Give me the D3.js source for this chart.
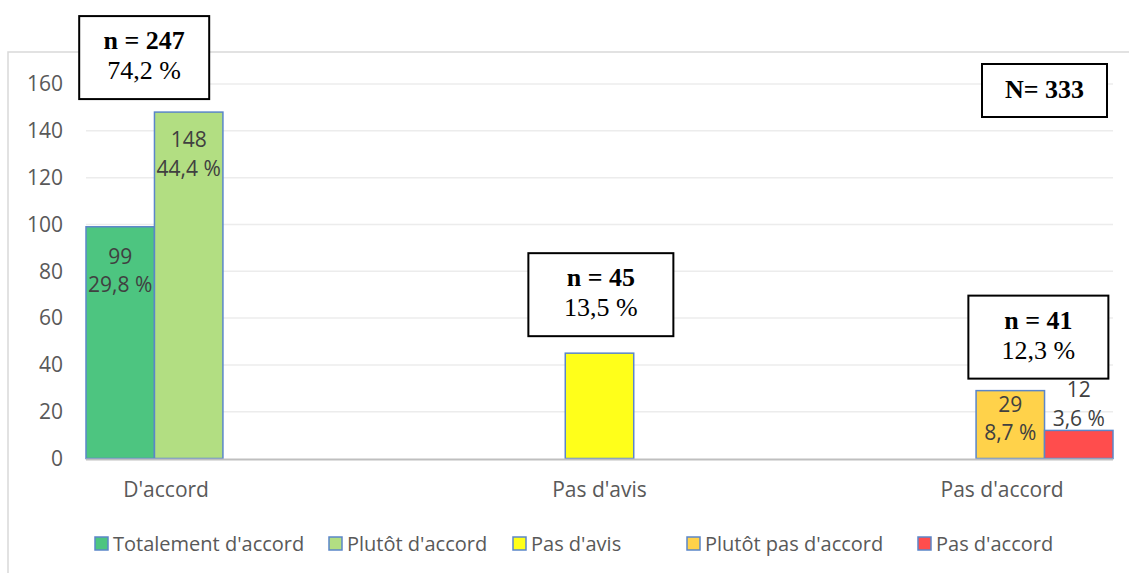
<!DOCTYPE html>
<html>
<head>
<meta charset="utf-8">
<script src="https://cdn.jsdelivr.net/npm/d3@7"></script>
<style>
  body { margin: 0; background: #fff; }
  svg { display: block; }
  text { font-family: "Open Sans", sans-serif; }
  .box text { font-family: "Liberation Serif", "Times New Roman", serif; }
</style>
</head>
<body>
<script>
// data
var categories = ["D'accord", "Pas d'avis", "Pas d'accord"];
var series = ["Totalement d'accord", "Plutôt d'accord", "Pas d'avis", "Plutôt pas d'accord", "Pas d'accord"];
var totalementAccord = [99, 0, 0];
var plutotAccord = [148, 0, 0];
var pasAvis = [0, 45, 0];
var plutotPasAccord = [0, 0, 29];
var pasAccord = [0, 0, 12];
var barPercents = ["29,8 %", "44,4 %", "", "8,7 %", "3,6 %"];
var groupN = [247, 45, 41];
var groupPercents = ["74,2 %", "13,5 %", "12,3 %"];
var totalN = 333;
var yTicks = [0, 20, 40, 60, 80, 100, 120, 140, 160];

var seriesValues = [totalementAccord, plutotAccord, pasAvis, plutotPasAccord, pasAccord];
var colors = ["#4dc580", "#b2de82", "#ffff1a", "#ffd24a", "#ff4d4d"];

let width = 1129;
let height = 573;

let svg = d3.select("body").append("svg")
    .attr("width", width)
    .attr("height", height);

// chart frame
svg.append("rect")
    .attr("x", 8).attr("y", 52)
    .attr("width", 1137).attr("height", 540)
    .attr("fill", "none")
    .attr("stroke", "#d9d9d9")
    .attr("stroke-width", 1.5);

let x0 = d3.scaleBand().domain(categories).range([86, 1113]).padding(0);
let x1 = d3.scaleBand().domain(series).range([0, x0.bandwidth()]).padding(0);
let y = d3.scaleLinear().domain([0, 160]).range([458.5, 84]);

// gridlines
svg.selectAll(".grid")
    .data(yTicks.slice(1))
    .join("line")
    .attr("class", "grid")
    .attr("x1", 86).attr("x2", 1113)
    .attr("y1", d => y(d)).attr("y2", d => y(d))
    .attr("stroke", "#ececec")
    .attr("stroke-width", 1.5);

// y tick labels
svg.selectAll(".ytick")
    .data(yTicks)
    .join("text")
    .attr("class", "ytick")
    .attr("x", 63)
    .attr("y", d => y(d))
    .attr("dy", "0.35em")
    .attr("text-anchor", "end")
    .style("font-size", "21px")
    .style("fill", "#595959")
    .text(d => d);

// bars
var bars = [];
seriesValues.forEach((vals, s) => {
    vals.forEach((v, c) => {
        if (v > 0) bars.push({ s: s, c: c, value: v, pct: barPercents[s] });
    });
});

svg.selectAll(".bar")
    .data(bars)
    .join("rect")
    .attr("class", "bar")
    .attr("x", d => x0(categories[d.c]) + x1(series[d.s]))
    .attr("y", d => y(d.value))
    .attr("width", x1.bandwidth())
    .attr("height", d => y(0) - y(d.value))
    .attr("fill", d => colors[d.s])
    .attr("stroke", "#5b86c9")
    .attr("stroke-width", 1.5);

// x axis line
svg.append("line")
    .attr("x1", 86).attr("x2", 1113)
    .attr("y1", y(0) + 1).attr("y2", y(0) + 1)
    .attr("stroke", "#bfbfbf")
    .attr("stroke-width", 2);

// bar data labels (offsets from bar top, first line / second line)
var labelOffsets = [[37, 65], [35, 64], [0, 0], [21, 49], [-33, -4]];
bars.filter(d => d.pct !== "").forEach(d => {
    let cx = x0(categories[d.c]) + x1(series[d.s]) + x1.bandwidth() / 2;
    let top = y(d.value);
    svg.append("text")
        .attr("x", cx).attr("y", top + labelOffsets[d.s][0])
        .attr("text-anchor", "middle")
        .style("font-size", "21px").style("fill", "#404040")
        .text(d.value);
    svg.append("text")
        .attr("x", cx).attr("y", top + labelOffsets[d.s][1])
        .attr("text-anchor", "middle")
        .style("font-size", "21px").style("fill", "#404040")
        .text(d.pct);
});

// category labels (position in sub-band steps from group start)
var catLabelSlot = [1.17, 2.5, 3.38];
svg.selectAll(".cat")
    .data(categories)
    .join("text")
    .attr("class", "cat")
    .attr("x", (d, i) => x0(d) + x1.step() * catLabelSlot[i])
    .attr("y", 497)
    .attr("text-anchor", "middle")
    .style("font-size", "21px")
    .style("fill", "#595959")
    .text(d => d);

// group boxes
var boxSlot = [0.85, 2.52, 3.91];
var boxWidth = [130, 145, 140];
var boxGap = [13, 17, 12];
categories.forEach((c, i) => {
    let maxVal = d3.max(seriesValues, v => v[i]);
    let cx = x0(c) + x1.step() * boxSlot[i];
    let bottom = y(maxVal) - boxGap[i];
    let top = bottom - 83;
    let g = svg.append("g").attr("class", "box");
    g.append("rect")
        .attr("x", cx - boxWidth[i] / 2).attr("y", top)
        .attr("width", boxWidth[i]).attr("height", 83)
        .attr("fill", "#fff").attr("stroke", "#000").attr("stroke-width", 2);
    g.append("text")
        .attr("x", cx).attr("y", top + 33)
        .attr("text-anchor", "middle")
        .style("font-size", "26px").style("font-weight", "bold")
        .text("n = " + groupN[i]);
    g.append("text")
        .attr("x", cx).attr("y", top + 63)
        .attr("text-anchor", "middle")
        .style("font-size", "26px")
        .text(groupPercents[i]);
});

// total box
var tb = svg.append("g").attr("class", "box");
tb.append("rect")
    .attr("x", 982).attr("y", y(160) - 20)
    .attr("width", 125).attr("height", 53)
    .attr("fill", "#fff").attr("stroke", "#000").attr("stroke-width", 2);
tb.append("text")
    .attr("x", 982 + 62.5).attr("y", y(160) + 14)
    .attr("text-anchor", "middle")
    .style("font-size", "26px").style("font-weight", "bold")
    .text("N= " + totalN);

// legend
var legendX = [95, 329, 513, 687, 918];
var legend = svg.append("g");
series.forEach((s, i) => {
    let item = legend.append("g").attr("transform", "translate(" + legendX[i] + ",0)");
    item.append("rect")
        .attr("x", 0).attr("y", 537)
        .attr("width", 13).attr("height", 13)
        .attr("fill", colors[i])
        .attr("stroke", "#5b86c9").attr("stroke-width", 1.5);
    item.append("text")
        .attr("x", 18).attr("y", 551)
        .style("font-size", "20px")
        .style("fill", "#595959")
        .text(s);
});
</script>
</body>
</html>
